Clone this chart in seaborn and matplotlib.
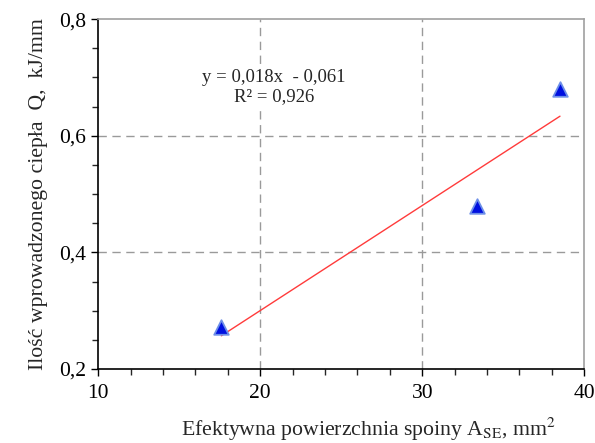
import matplotlib
matplotlib.use("Agg")
import matplotlib.pyplot as plt
import seaborn as sns
import pandas as pd
from matplotlib.ticker import MultipleLocator, FuncFormatter

# data
area = [17.6, 33.4, 38.5]        # A_SE, mm2
heat = [0.272, 0.480, 0.680]     # Q, kJ/mm
df = pd.DataFrame({"area": area, "heat": heat})

sns.set_style("white")
plt.rcParams["font.family"] = ["Liberation Serif", "DejaVu Serif"]
plt.rcParams["mathtext.fontset"] = "stix"

fig, ax = plt.subplots(figsize=(5.95, 4.43), dpi=100)
fig.subplots_adjust(left=0.165, right=0.982, top=0.957, bottom=0.167)

sns.regplot(data=df, x="area", y="heat", ax=ax, scatter=False, ci=None,
            line_kws={"color": "#ff3b3b", "linewidth": 1.0})
sns.scatterplot(data=df, x="area", y="heat", ax=ax, marker="^", s=110,
                color="#0010e0", edgecolor="#6d8fe8", linewidth=1.3, zorder=5)

ax.set_xlim(10, 40)
ax.set_ylim(0.2, 0.8)
ax.xaxis.set_major_locator(MultipleLocator(10))
ax.xaxis.set_minor_locator(MultipleLocator(2))
ax.yaxis.set_major_locator(MultipleLocator(0.2))
ax.yaxis.set_minor_locator(MultipleLocator(0.05))
ax.yaxis.set_major_formatter(FuncFormatter(lambda v, p: f"{v:.1f}".replace(".", ",")))
ax.xaxis.set_major_formatter(FuncFormatter(lambda v, p: f"{v:.0f}"))

ax.tick_params(which="major", direction="out", length=5, width=1, labelsize=15.5,
               bottom=True, left=True, colors="black")
ax.tick_params(which="minor", direction="out", length=4, width=1,
               bottom=True, left=True)
ax.tick_params(axis="x", pad=6)

for s in ["left", "bottom"]:
    ax.spines[s].set_color("black")
    ax.spines[s].set_linewidth(1.2)
for s in ["top", "right"]:
    ax.spines[s].set_color("#a0a0a0")
    ax.spines[s].set_linewidth(1.2)

for gx in [20, 30]:
    ax.axvline(gx, color="#9a9a9a", linestyle=(0, (6, 4)), linewidth=1, zorder=0)
for gy in [0.4, 0.6]:
    ax.axhline(gy, color="#9a9a9a", linestyle=(0, (6, 4)), linewidth=1, zorder=0)

# trendline label (white box hides the grid line behind it)
box = dict(facecolor="white", edgecolor="none", pad=1.5)
ax.text(20.85, 0.683, "y = 0,018x  - 0,061\nR² = 0,926", ha="center", va="center",
        fontsize=13.5, linespacing=1.15, bbox=box, zorder=3)

ax.set_ylabel("Ilość wprowadzonego ciepła  Q,  kJ/mm", fontsize=15.7, labelpad=8)
ax.set_xlabel(r"Efektywna powierzchnia spoiny A$_{\mathrm{SE}}$, mm$^{2}$",
              fontsize=15.7)
ax.xaxis.set_label_coords(0.555, -0.135)

fig.savefig("out.png", dpi=100)
